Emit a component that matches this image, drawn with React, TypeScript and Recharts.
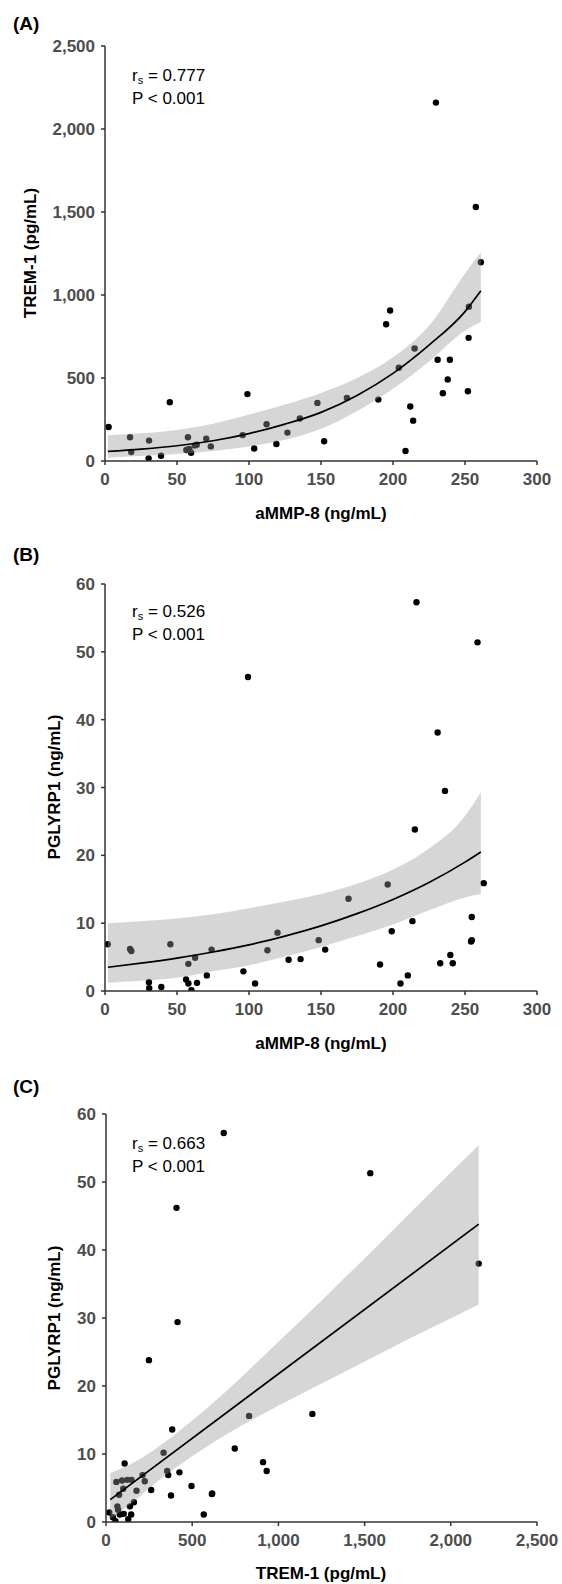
import React from 'react';
import { ComposedChart, XAxis, YAxis, Scatter, Area, Line } from 'recharts';

// (A) aMMP-8 vs TREM-1
const ammpA = [2.5, 17.4, 18.2, 30.6, 30.3, 38.9, 45, 56.5, 57.6, 58.5, 59.8, 62.4, 63.7, 70.3, 73.5, 95.6, 98.9, 103.6, 112.2, 119, 126.7, 135.3, 147.5, 152.2, 168, 189.8, 195.2, 198, 204, 208.7, 212, 214, 215, 229.8, 231, 234.6, 238, 239.5, 252, 252.5, 252.7, 257.5, 261];
const tremA = [205, 143, 54, 123, 16, 32, 354, 66, 143, 72, 50, 94, 98, 135, 88, 156, 403, 75, 221, 102, 171, 256, 350, 119, 380, 370, 824, 907, 562, 60, 328, 243, 678, 2159, 610, 408, 491, 610, 420, 742, 929, 1530, 1197];

// (B) aMMP-8 vs PGLYRP1
const ammpB = [1.9, 17.4, 18.3, 30.5, 30.7, 39.1, 45.4, 56.3, 57.9, 57.9, 60, 62.6, 63.9, 70.7, 74, 96.1, 99.3, 104.2, 112.8, 119.8, 127.5, 135.8, 148.4, 152.9, 169.1, 191, 196.3, 199.1, 205.2, 210.3, 213.5, 215.2, 216.3, 231, 232.8, 236.1, 239.8, 241.5, 254.2, 254.7, 254.7, 258.7, 263];
const pglB = [6.9, 6.2, 5.9, 1.3, 0.4, 0.6, 6.9, 1.7, 4.0, 1.1, 0.1, 4.9, 1.2, 2.3, 6.1, 2.9, 46.3, 1.1, 6.0, 8.6, 4.6, 4.7, 7.5, 6.1, 13.6, 3.9, 15.7, 8.8, 1.1, 2.3, 10.3, 23.8, 57.3, 38.1, 4.1, 29.5, 5.3, 4.1, 7.3, 7.5, 10.9, 51.4, 15.9];

// (C) TREM-1 vs PGLYRP1
const tremC = [212, 148, 60, 129, 19, 40, 361, 70, 146, 76, 55, 100, 103, 139, 93, 162, 409, 80, 225, 108, 177, 262, 355, 124, 384, 377, 830, 911, 567, 66, 334, 249, 683, 2162, 614, 415, 496, 616, 426, 747, 932, 1533, 1197];
const pglC = [6.9, 6.2, 5.9, 0.4, 1.4, 0.7, 6.9, 1.8, 1.1, 4.0, 0.1, 4.9, 1.2, 2.3, 6.1, 2.9, 46.2, 1.1, 6.0, 8.6, 4.6, 4.7, 7.5, 6.2, 13.6, 3.9, 15.6, 8.8, 1.1, 2.3, 10.2, 23.8, 57.2, 38.0, 4.1, 29.4, 5.3, 4.2, 7.3, 10.8, 7.5, 51.3, 15.9];

// fitted curves and confidence bands
const fitX = [2, 25, 50, 75, 100, 125, 150, 175, 200, 225, 250, 261];
const fitAy = [58, 72, 92, 122, 165, 222, 293, 395, 528, 698, 900, 1025];
const bandAlo = [20, 30, 42, 60, 88, 128, 195, 300, 435, 600, 785, 837];
const bandAhi = [155, 167, 187, 225, 280, 340, 410, 500, 625, 815, 1130, 1257];
const fitBy = [3.5, 4.1, 4.85, 5.75, 6.8, 8.1, 9.6, 11.4, 13.5, 16.0, 19.0, 20.5];
const bandBlo = [1.2, 1.5, 1.95, 2.9, 3.8, 5.1, 6.5, 8.1, 9.8, 11.9, 13.8, 14.3];
const bandBhi = [10.0, 10.3, 10.7, 11.3, 12.2, 13.2, 14.3, 15.8, 17.9, 21.0, 25.8, 29.3];
const fitCx = [25, 2162];
const fitCy = [3.3, 43.8];
const bandCx = [25, 150, 300, 450, 700, 1000, 1300, 1600, 1900, 2162];
const bandClo = [0.4, 2.8, 6.0, 8.8, 12.9, 17.1, 21.0, 24.9, 28.7, 32.0];
const bandChi = [7.2, 8.6, 11.0, 13.9, 19.3, 26.5, 33.8, 41.3, 48.9, 55.4];

const ammpTicks = [0, 50, 100, 150, 200, 250, 300];
const tremTicks = [0, 500, 1000, 1500, 2000, 2500];
const pglTicks = [0, 10, 20, 30, 40, 50, 60];

const FONT = "'Liberation Sans', Arial, Helvetica, sans-serif";
const fmt = (v: number) => v.toLocaleString('en-US');
const tickStyle = { fill: '#4d4d4d', fontSize: 17, fontWeight: 700, fontFamily: FONT };
const axisStyle = { stroke: '#333', strokeWidth: 1.5 };

const toPts = (xs: number[], ys: number[]) => xs.map((x, i) => ({ x, y: ys[i] }));
const toBand = (xs: number[], lo: number[], hi: number[]) => xs.map((x, i) => ({ x, range: [lo[i], hi[i]] }));

const Dot = (props: any) => <circle cx={props.cx} cy={props.cy} r={3.2} fill="#000" />;

function Panel(p: any) {
  return (
    <div style={{ position: 'absolute', left: 0, top: p.top }}>
      <ComposedChart width={562} height={p.height} margin={{ top: p.mt, right: 25, bottom: p.mb, left: 0 }}>
        <XAxis type="number" dataKey="x" domain={p.xDomain} ticks={p.xTicks} interval={0} allowDataOverflow
          tickFormatter={fmt} tick={tickStyle} tickSize={4} tickMargin={8} axisLine={axisStyle} tickLine={axisStyle} height={30} />
        <YAxis type="number" domain={p.yDomain} ticks={p.yTicks} interval={0} allowDataOverflow
          tickFormatter={fmt} tick={tickStyle} tickSize={4} tickMargin={6} width={p.yWidth} axisLine={axisStyle} tickLine={axisStyle} />
        <Scatter data={p.pts} dataKey="y" shape={Dot} isAnimationActive={false} zIndex={50} />
        <Area data={p.band} dataKey="range" type="monotone" stroke="none" fill="#999999" fillOpacity={0.4}
          dot={false} activeDot={false} isAnimationActive={false} />
        <Line data={p.fit} dataKey="y" type={p.fitType} stroke="#000" strokeWidth={1.7}
          dot={false} activeDot={false} isAnimationActive={false} />
      </ComposedChart>
    </div>
  );
}

const abs = (s: any): any => ({ position: 'absolute', whiteSpace: 'nowrap', lineHeight: 1, ...s });

function Stats({ top, r }: { top: number; r: string }) {
  return (
    <>
      <div style={abs({ left: 132, top, fontSize: 17, color: '#000' })}>
        r<span style={{ fontSize: 11, position: 'relative', top: 3 }}>s</span> = {r}
      </div>
      <div style={abs({ left: 132, top: top + 23, fontSize: 17, color: '#000' })}>P &lt; 0.001</div>
    </>
  );
}

const PanelLabel = ({ top, text }: { top: number; text: string }) => (
  <div style={abs({ left: 13, top, fontSize: 19, fontWeight: 700 })}>{text}</div>
);
const XTitle = ({ cy, text }: { cy: number; text: string }) => (
  <div style={abs({ left: 321, top: cy, fontSize: 17, fontWeight: 700, transform: 'translate(-50%, -50%)' })}>{text}</div>
);
const YTitle = ({ cx, cy, text }: { cx: number; cy: number; text: string }) => (
  <div style={abs({ left: cx, top: cy, fontSize: 17, fontWeight: 700, transform: 'translate(-50%, -50%) rotate(-90deg)' })}>{text}</div>
);

export default function App() {
  return (
    <div style={{ position: 'absolute', left: 0, top: 0, width: 562, height: 1584, background: '#fff', fontFamily: FONT, color: '#000' }}>
      <Panel top={0} height={530} mt={46} mb={39} yWidth={105}
        xDomain={[0, 300]} xTicks={ammpTicks} yDomain={[0, 2500]} yTicks={tremTicks}
        pts={toPts(ammpA, tremA)} fit={toPts(fitX, fitAy)} band={toBand(fitX, bandAlo, bandAhi)} fitType="monotone" />
      <Panel top={530} height={530} mt={54} mb={39} yWidth={105}
        xDomain={[0, 300]} xTicks={ammpTicks} yDomain={[0, 60]} yTicks={pglTicks}
        pts={toPts(ammpB, pglB)} fit={toPts(fitX, fitBy)} band={toBand(fitX, bandBlo, bandBhi)} fitType="monotone" />
      <Panel top={1060} height={524} mt={54} mb={32} yWidth={106}
        xDomain={[0, 2500]} xTicks={tremTicks} yDomain={[0, 60]} yTicks={pglTicks}
        pts={toPts(tremC, pglC)} fit={toPts(fitCx, fitCy)} band={toBand(bandCx, bandClo, bandChi)} fitType="linear" />

      <PanelLabel top={14} text="(A)" />
      <PanelLabel top={545} text="(B)" />
      <PanelLabel top={1077} text="(C)" />

      <Stats top={67} r="0.777" />
      <Stats top={603} r="0.526" />
      <Stats top={1135} r="0.663" />

      <YTitle cx={30} cy={253} text="TREM-1 (pg/mL)" />
      <YTitle cx={54} cy={787} text="PGLYRP1 (ng/mL)" />
      <YTitle cx={54} cy={1318} text="PGLYRP1 (ng/mL)" />

      <XTitle cy={513} text="aMMP-8 (ng/mL)" />
      <XTitle cy={1043} text="aMMP-8 (ng/mL)" />
      <XTitle cy={1573} text="TREM-1 (pg/mL)" />
    </div>
  );
}
